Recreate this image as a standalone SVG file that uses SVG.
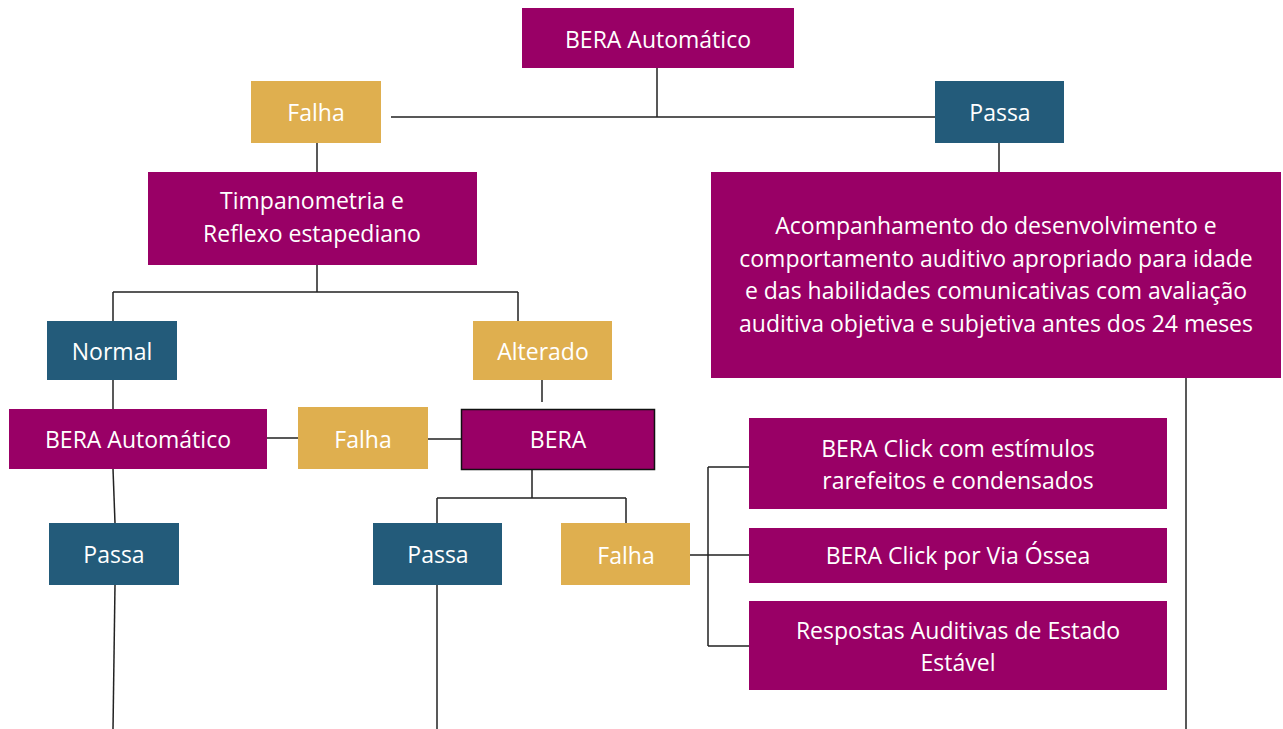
<svg xmlns="http://www.w3.org/2000/svg" width="1283" height="729" viewBox="0 0 1283 729">
<style>
.p{fill:#990066}
.g{fill:#DFAF4F}
.b{fill:#235B7A}
text{font-family:"Open Sans","Noto Sans",sans-serif;font-size:23px;fill:#ffffff;text-anchor:middle;dominant-baseline:central}
.c{stroke:#222;stroke-width:1.5;fill:none}
</style>
<rect width="1283" height="729" fill="#ffffff"/>
<g id="connectors" class="c">
<path d="M657,68V117M391,117H935"/>
<path d="M317,143V172"/>
<path d="M999,143V172"/>
<path d="M1186,378V729"/>
<path d="M317,265V292M113,292H518M113,292V321M518,292V321"/>
<path d="M113,380V409"/>
<path d="M542,380V402"/>
<path d="M267,438H298M428,439H461"/>
<path d="M113,469L115,523"/>
<path d="M115,585L113,729"/>
<path d="M532,469V498M437,498H626M437,498V523M626,498V523"/>
<path d="M437,585V729"/>
<path d="M690,555H749M708,467V646M708,467H749M708,646H749"/>
</g>
<g id="n1"><rect class="p" x="522" y="8" width="272" height="60"/><text x="658" y="39">BERA Automático</text></g>
<g id="n2"><rect class="g" x="251" y="81" width="130" height="62"/><text x="316" y="112">Falha</text></g>
<g id="n3"><rect class="b" x="935" y="81" width="129" height="62"/><text x="1000" y="112">Passa</text></g>
<g id="n4"><rect class="p" x="148" y="172" width="329" height="93"/><text x="312" y="200">Timpanometria e</text><text x="312" y="233">Reflexo estapediano</text></g>
<g id="n5"><rect class="p" x="711" y="172" width="570" height="206"/>
<text x="996" y="225">Acompanhamento do desenvolvimento e</text>
<text x="996" y="258">comportamento auditivo apropriado para idade</text>
<text x="996" y="290">e das habilidades comunicativas com avaliação</text>
<text x="996" y="323">auditiva objetiva e subjetiva antes dos 24 meses</text></g>
<g id="n6"><rect class="b" x="47" y="321" width="130" height="59"/><text x="112" y="351">Normal</text></g>
<g id="n7"><rect class="g" x="473" y="321" width="139" height="59"/><text x="543" y="351">Alterado</text></g>
<g id="n8"><rect class="p" x="9" y="409" width="258" height="60"/><text x="138" y="439">BERA Automático</text></g>
<g id="n9"><rect class="g" x="298" y="407" width="130" height="62"/><text x="363" y="439">Falha</text></g>
<g id="n10"><rect class="p" x="461.5" y="409.5" width="193" height="60" stroke="#111" stroke-width="1.5"/><text x="558" y="439">BERA</text></g>
<g id="n11"><rect class="b" x="49" y="523" width="130" height="62"/><text x="114" y="554">Passa</text></g>
<g id="n12"><rect class="b" x="373" y="523" width="129" height="62"/><text x="438" y="554">Passa</text></g>
<g id="n13"><rect class="g" x="561" y="523" width="129" height="62"/><text x="626" y="555">Falha</text></g>
<g id="n14"><rect class="p" x="749" y="418" width="418" height="91"/><text x="958" y="448">BERA Click com estímulos</text><text x="958" y="480">rarefeitos e condensados</text></g>
<g id="n15"><rect class="p" x="749" y="528" width="418" height="55"/><text x="958" y="555">BERA Click por Via Óssea</text></g>
<g id="n16"><rect class="p" x="749" y="601" width="418" height="89"/><text x="958" y="630">Respostas Auditivas de Estado</text><text x="958" y="662">Estável</text></g>
</svg>
